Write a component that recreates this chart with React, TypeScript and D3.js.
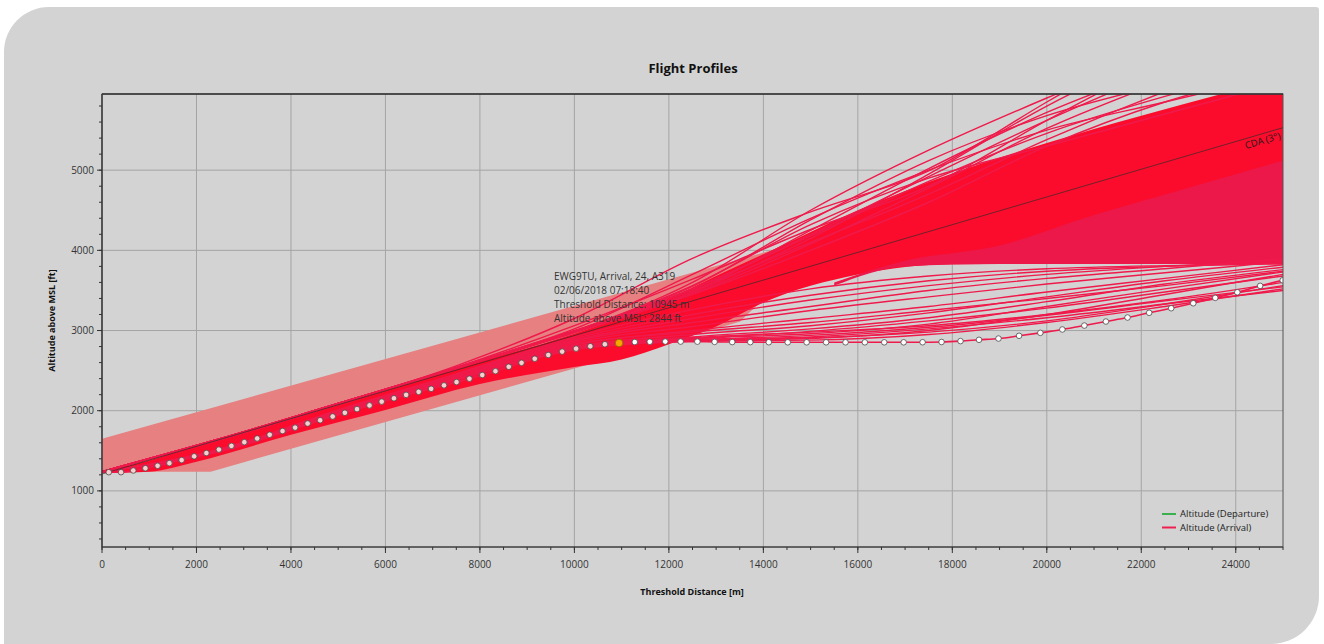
import * as d3 from 'd3'

// distance stations (m) used by the individual arrival profiles
const stations = [0, 2500, 5000, 7500, 10000, 12500, 15000, 17500, 20000, 22500, 25000]

// profiles that climb out above the main bundle
const upperProfiles = [
  [1240, 1640, 2080, 2560, 3150, 3900, 4480, 4990, 5850, 6700, 7600],
  [1240, 1640, 2080, 2540, 3060, 3640, 4260, 4800, 5620, 6400, 7200],
  [1240, 1650, 2090, 2540, 3000, 3520, 4200, 4920, 5620, 6250, 6800],
  [1240, 1650, 2090, 2530, 2990, 3460, 4080, 4780, 5520, 6120, 6700],
  [1240, 1650, 2090, 2530, 2980, 3480, 4250, 5020, 5720, 6300, 6900],
  [1240, 1650, 2090, 2530, 2990, 3550, 4380, 5120, 5680, 6080, 6450],
  [1240, 1650, 2090, 2530, 2990, 3520, 4180, 4860, 5460, 5920, 6300],
  [1240, 1650, 2090, 2530, 2990, 3500, 4100, 4700, 5380, 5980, 6500],
  [1240, 1650, 2090, 2530, 2970, 3450, 4000, 4600, 5300, 5850, 6250],
  [1240, 1650, 2090, 2530, 2990, 3600, 4500, 5250, 5900, 6500, 7000],
  [1240, 1650, 2090, 2540, 3020, 3700, 4400, 5000, 5500, 5850, 6200],
  [1240, 1650, 2090, 2530, 2990, 3480, 4150, 4950, 5800, 6500, 7100],
  [1240, 1650, 2090, 2530, 2990, 3560, 4320, 4900, 5300, 5700, 6100],
]

// profiles that stay low, between the bundle and the highlighted flight
const lowerProfiles = [
  [1235, 1490, 1950, 2380, 2760, 2870, 2920, 3020, 3160, 3330, 3500],
  [1235, 1500, 1960, 2390, 2770, 2880, 2940, 3040, 3190, 3370, 3545],
  [1235, 1500, 1970, 2400, 2780, 2870, 2900, 3000, 3200, 3450, 3700],
  [1235, 1500, 1970, 2400, 2790, 2900, 2960, 3080, 3300, 3520, 3730],
  [1235, 1500, 1970, 2400, 2790, 2920, 3020, 3160, 3360, 3580, 3760],
  [1235, 1500, 1980, 2410, 2800, 2950, 3060, 3220, 3420, 3620, 3790],
  [1235, 1500, 1980, 2410, 2820, 3000, 3150, 3300, 3480, 3650, 3820],
  [1235, 1510, 1990, 2420, 2850, 3050, 3250, 3420, 3580, 3720, 3860],
  [1235, 1510, 1990, 2430, 2870, 3100, 3300, 3500, 3650, 3770, 3900],
  [1235, 1510, 2000, 2440, 2880, 3150, 3380, 3560, 3700, 3800, 3880],
  [1235, 1510, 2000, 2450, 2900, 3200, 3440, 3620, 3740, 3800, 3840],
  [1235, 1520, 2010, 2460, 2920, 3260, 3520, 3680, 3770, 3810, 3830],
  [1235, 1500, 1975, 2405, 2800, 2900, 2990, 3120, 3280, 3480, 3680],
  [1235, 1505, 1985, 2415, 2830, 2980, 3100, 3250, 3400, 3560, 3740],
  [1235, 1495, 1960, 2390, 2775, 2890, 2910, 2980, 3120, 3330, 3560],
  [1235, 1495, 1960, 2390, 2775, 2870, 2880, 2950, 3100, 3300, 3520],
  [1235, 1500, 1965, 2395, 2780, 2910, 2980, 3060, 3200, 3380, 3600],
]

// envelope of the dense bundle of arrivals
const bundleDist = [0, 1000, 2000, 4000, 6000, 8000, 10000, 11000, 12000, 13000, 14000, 16000, 18000, 20000, 22000, 25000]
const bundleLow = [1222, 1240, 1364, 1700, 2010, 2333, 2545, 2640, 2830, 3050, 3350, 3700, 3828, 3830, 3830, 3830]
const bundleHigh = [1250, 1380, 1570, 1900, 2250, 2610, 2960, 3170, 3400, 3680, 3950, 4500, 4960, 5340, 5680, 6150]

// darker wedge in the far part of the bundle
const wedgeDist = [15500, 17000, 19000, 21000, 23000, 25000]
const wedgeLow = [3560, 3800, 3830, 3830, 3830, 3830]
const wedgeHigh = [3600, 3870, 4060, 4440, 4780, 5120]

// approach corridor: top edge and bottom edge
const corridorTopDist = [0, 15500]
const corridorTopAlt = [1650, 4220]
const corridorBottomDist = [0, 2300, 13500]
const corridorBottomAlt = [1240, 1240, 3110]

// continuous descent approach reference (3°)
const cdaDist = [0, 25000]
const cdaAlt = [1210, 5530]

// highlighted flight EWG9TU
const flightDist = [144, 403, 662, 918, 1177, 1427, 1686, 1951, 2210, 2475, 2740, 3013, 3285, 3550, 3822, 4088, 4353, 4618, 4883, 5141, 5398, 5663, 5921, 6180, 6438, 6703, 6968, 7240, 7505, 7778, 8050, 8329, 8610, 8881, 9161, 9447, 9741, 10036, 10337, 10645, 10945, 11278, 11596, 11923, 12249, 12603, 12968, 13341, 13723, 14115, 14516, 14916, 15328, 15739, 16148, 16559, 16970, 17371, 17772, 18173, 18565, 18977, 19413, 19863, 20329, 20795, 21251, 21709, 22167, 22633, 23100, 23566, 24033, 24516, 24993]
const flightAlt = [1233, 1233, 1254, 1283, 1313, 1346, 1384, 1431, 1472, 1515, 1561, 1608, 1654, 1700, 1746, 1789, 1840, 1881, 1928, 1974, 2020, 2066, 2113, 2155, 2197, 2235, 2273, 2316, 2357, 2399, 2445, 2493, 2548, 2597, 2648, 2695, 2737, 2774, 2804, 2829, 2844, 2856, 2860, 2862, 2862, 2861, 2858, 2856, 2855, 2854, 2853, 2853, 2853, 2853, 2853, 2853, 2853, 2854, 2857, 2868, 2884, 2900, 2934, 2971, 3013, 3062, 3112, 3162, 3221, 3278, 3340, 3407, 3477, 3557, 3627]
const selectedIndex = 40

const tooltipLines = [
  'EWG9TU, Arrival, 24, A319',
  '02/06/2018 07:18:40',
  'Threshold Distance: 10945 m',
  'Altitude above MSL: 2844 ft',
]

const xTickLabels = [0, 2000, 4000, 6000, 8000, 10000, 12000, 14000, 16000, 18000, 20000, 22000, 24000]
const yTickLabels = [1000, 2000, 3000, 4000, 5000]

const legendItems = [
  { label: 'Altitude (Departure)', color: '#3cb04e' },
  { label: 'Altitude (Arrival)', color: '#ee2050' },
]

const font = '"Open Sans", "Noto Sans", sans-serif'
const lineRed = '#ef1a4b'

export default function App() {
  const x = d3.scaleLinear().domain([0, 25000]).range([102, 1283])
  const y = d3.scaleLinear().domain([300, 5950]).range([547, 94])
  const [x0, x1] = x.range()
  const [y0, y1] = y.range()

  const profileLine = d3.line<number>()
    .x((_, i) => x(stations[i]))
    .y(d => y(d))
    .curve(d3.curveMonotoneX)

  const band = (dist: number[], lo: number[], hi: number[]) =>
    d3.area<number>()
      .x((_, i) => x(dist[i]))
      .y0((_, i) => y(lo[i]))
      .y1((_, i) => y(hi[i]))
      .curve(d3.curveMonotoneX)(dist) as string

  const corridorPts: [number, number][] = [
    ...corridorTopDist.map((d, i) => [x(d), y(corridorTopAlt[i])] as [number, number]),
    ...corridorBottomDist.map((d, i) => [x(d), y(corridorBottomAlt[i])] as [number, number]).reverse(),
  ]
  const corridor = d3.line()(corridorPts) + 'Z'

  const flightLine = d3.line<number>()
    .x((_, i) => x(flightDist[i]))
    .y(d => y(d))
    .curve(d3.curveMonotoneX)(flightAlt) as string

  const cdaLine = d3.line<number>()
    .x((_, i) => x(cdaDist[i]))
    .y(d => y(d))(cdaAlt) as string

  const cdaAngle = Math.atan2(y(cdaAlt[1]) - y(cdaAlt[0]), x(cdaDist[1]) - x(cdaDist[0])) * 180 / Math.PI
  const cdaAt = (d: number) => cdaAlt[0] + (cdaAlt[1] - cdaAlt[0]) * d / cdaDist[1]

  const xMinor = d3.range(0, 25001, 500)
  const yMinor = d3.range(400, 5950, 200)

  return (
    <svg width={1324} height={644} style={{ position: 'absolute', left: 0, top: 0, background: '#fff' }}>
      <defs>
        <clipPath id="plot">
          <rect x={x0} y={y1} width={x1 - x0} height={y0 - y1} />
        </clipPath>
      </defs>
      <path d="M4,52 A45,45 0 0 1 49,7 L1316,7 A3,3 0 0 1 1319,10 L1319,596 A48,48 0 0 1 1271,644 L4,644 Z" fill="#d3d3d3" />

      <text x={693} y={73} textAnchor="middle" fontFamily={font} fontWeight="bold" fontSize={13} fill="#111">Flight Profiles</text>

      {/* grid */}
      <g stroke="#a4a4a4" strokeWidth={1}>
        {xTickLabels.map(t => <line key={'gx' + t} x1={x(t)} x2={x(t)} y1={y1} y2={y0} />)}
        {yTickLabels.map(t => <line key={'gy' + t} x1={x0} x2={x1} y1={y(t)} y2={y(t)} />)}
      </g>

      <g clipPath="url(#plot)">
        <path d={corridor} fill="#e68081" />
        <path d={band(bundleDist, bundleLow, bundleHigh)} fill="#fb0c2c" />
        <path d={band(wedgeDist, wedgeLow, wedgeHigh)} fill="#ec1849" />
        {upperProfiles.map((p, i) => (
          <path key={'u' + i} d={profileLine(p) as string} fill="none" stroke={lineRed} strokeWidth={1.4} />
        ))}
        {lowerProfiles.map((p, i) => (
          <path key={'l' + i} d={profileLine(p) as string} fill="none" stroke={lineRed} strokeWidth={1.4} />
        ))}
        <path d={cdaLine} fill="none" stroke="#3a2a2a" strokeWidth={0.9} opacity={0.8} />
        <path d={flightLine} fill="none" stroke={lineRed} strokeWidth={1.6} />
        {flightDist.map((d, i) => i === selectedIndex ? null : (
          <circle key={'f' + i} cx={x(d)} cy={y(flightAlt[i])} r={2.8}
            fill={i < selectedIndex ? '#f6cfcf' : '#fff'} stroke="#4a4a4a" strokeWidth={0.8} />
        ))}
        <circle cx={x(flightDist[selectedIndex])} cy={y(flightAlt[selectedIndex])} r={3.8} fill="#f7a600" stroke="#8a6400" strokeWidth={0.8} />
      </g>

      <text transform={`translate(${x(24900)},${y(cdaAt(24900))}) rotate(${cdaAngle})`} dy={10} textAnchor="end"
        fontFamily={font} fontSize={9.5} fill="#1a1a1a">CDA (3°)</text>

      <g fontFamily={font} fontSize={10} fill="#333">
        {tooltipLines.map((t, i) => (
          <text key={t} x={554} y={280 + i * 14}>{t}</text>
        ))}
      </g>

      {/* frame and axes */}
      <rect x={x0} y={y1} width={x1 - x0} height={y0 - y1} fill="none" stroke="#555" strokeWidth={1} />
      <line x1={x0} x2={x1} y1={y1} y2={y1} stroke="#333" strokeWidth={1.5} />
      <line x1={x0} x2={x0} y1={y1} y2={y0} stroke="#333" strokeWidth={1.2} />
      <line x1={x0} x2={x1} y1={y0} y2={y0} stroke="#333" strokeWidth={1.2} />

      <g stroke="#333" strokeWidth={1}>
        {yMinor.map(t => <line key={'ym' + t} x1={x0 - 3} x2={x0} y1={y(t)} y2={y(t)} />)}
        {yTickLabels.map(t => <line key={'yt' + t} x1={x0 - 5} x2={x0} y1={y(t)} y2={y(t)} />)}
        {xMinor.map(t => <line key={'xm' + t} x1={x(t)} x2={x(t)} y1={y0} y2={y0 + 3} />)}
        {xTickLabels.map(t => <line key={'xt' + t} x1={x(t)} x2={x(t)} y1={y0} y2={y0 + 6} />)}
      </g>
      <g fontFamily={font} fontSize={10} fill="#333">
        {yTickLabels.map(t => (
          <text key={'yl' + t} x={x0 - 8} y={y(t)} dy="0.35em" textAnchor="end">{t}</text>
        ))}
        {xTickLabels.map(t => (
          <text key={'xl' + t} x={x(t)} y={568} textAnchor="middle">{t}</text>
        ))}
      </g>

      <text x={692} y={595} textAnchor="middle" fontFamily={font} fontWeight="bold" fontSize={9} fill="#111">Threshold Distance [m]</text>
      <text transform={`translate(55,${(y0 + y1) / 2}) rotate(-90)`} textAnchor="middle" fontFamily={font} fontWeight="bold" fontSize={9} fill="#111">Altitude above MSL [ft]</text>

      <g fontFamily={font} fontSize={9.5} fill="#222">
        {legendItems.map((item, i) => (
          <g key={item.label} transform={`translate(1162,${514 + i * 13.5})`}>
            <line x1={0} x2={14} y1={0} y2={0} stroke={item.color} strokeWidth={2} />
            <text x={18} y={0} dy="0.35em">{item.label}</text>
          </g>
        ))}
      </g>
    </svg>
  )
}
